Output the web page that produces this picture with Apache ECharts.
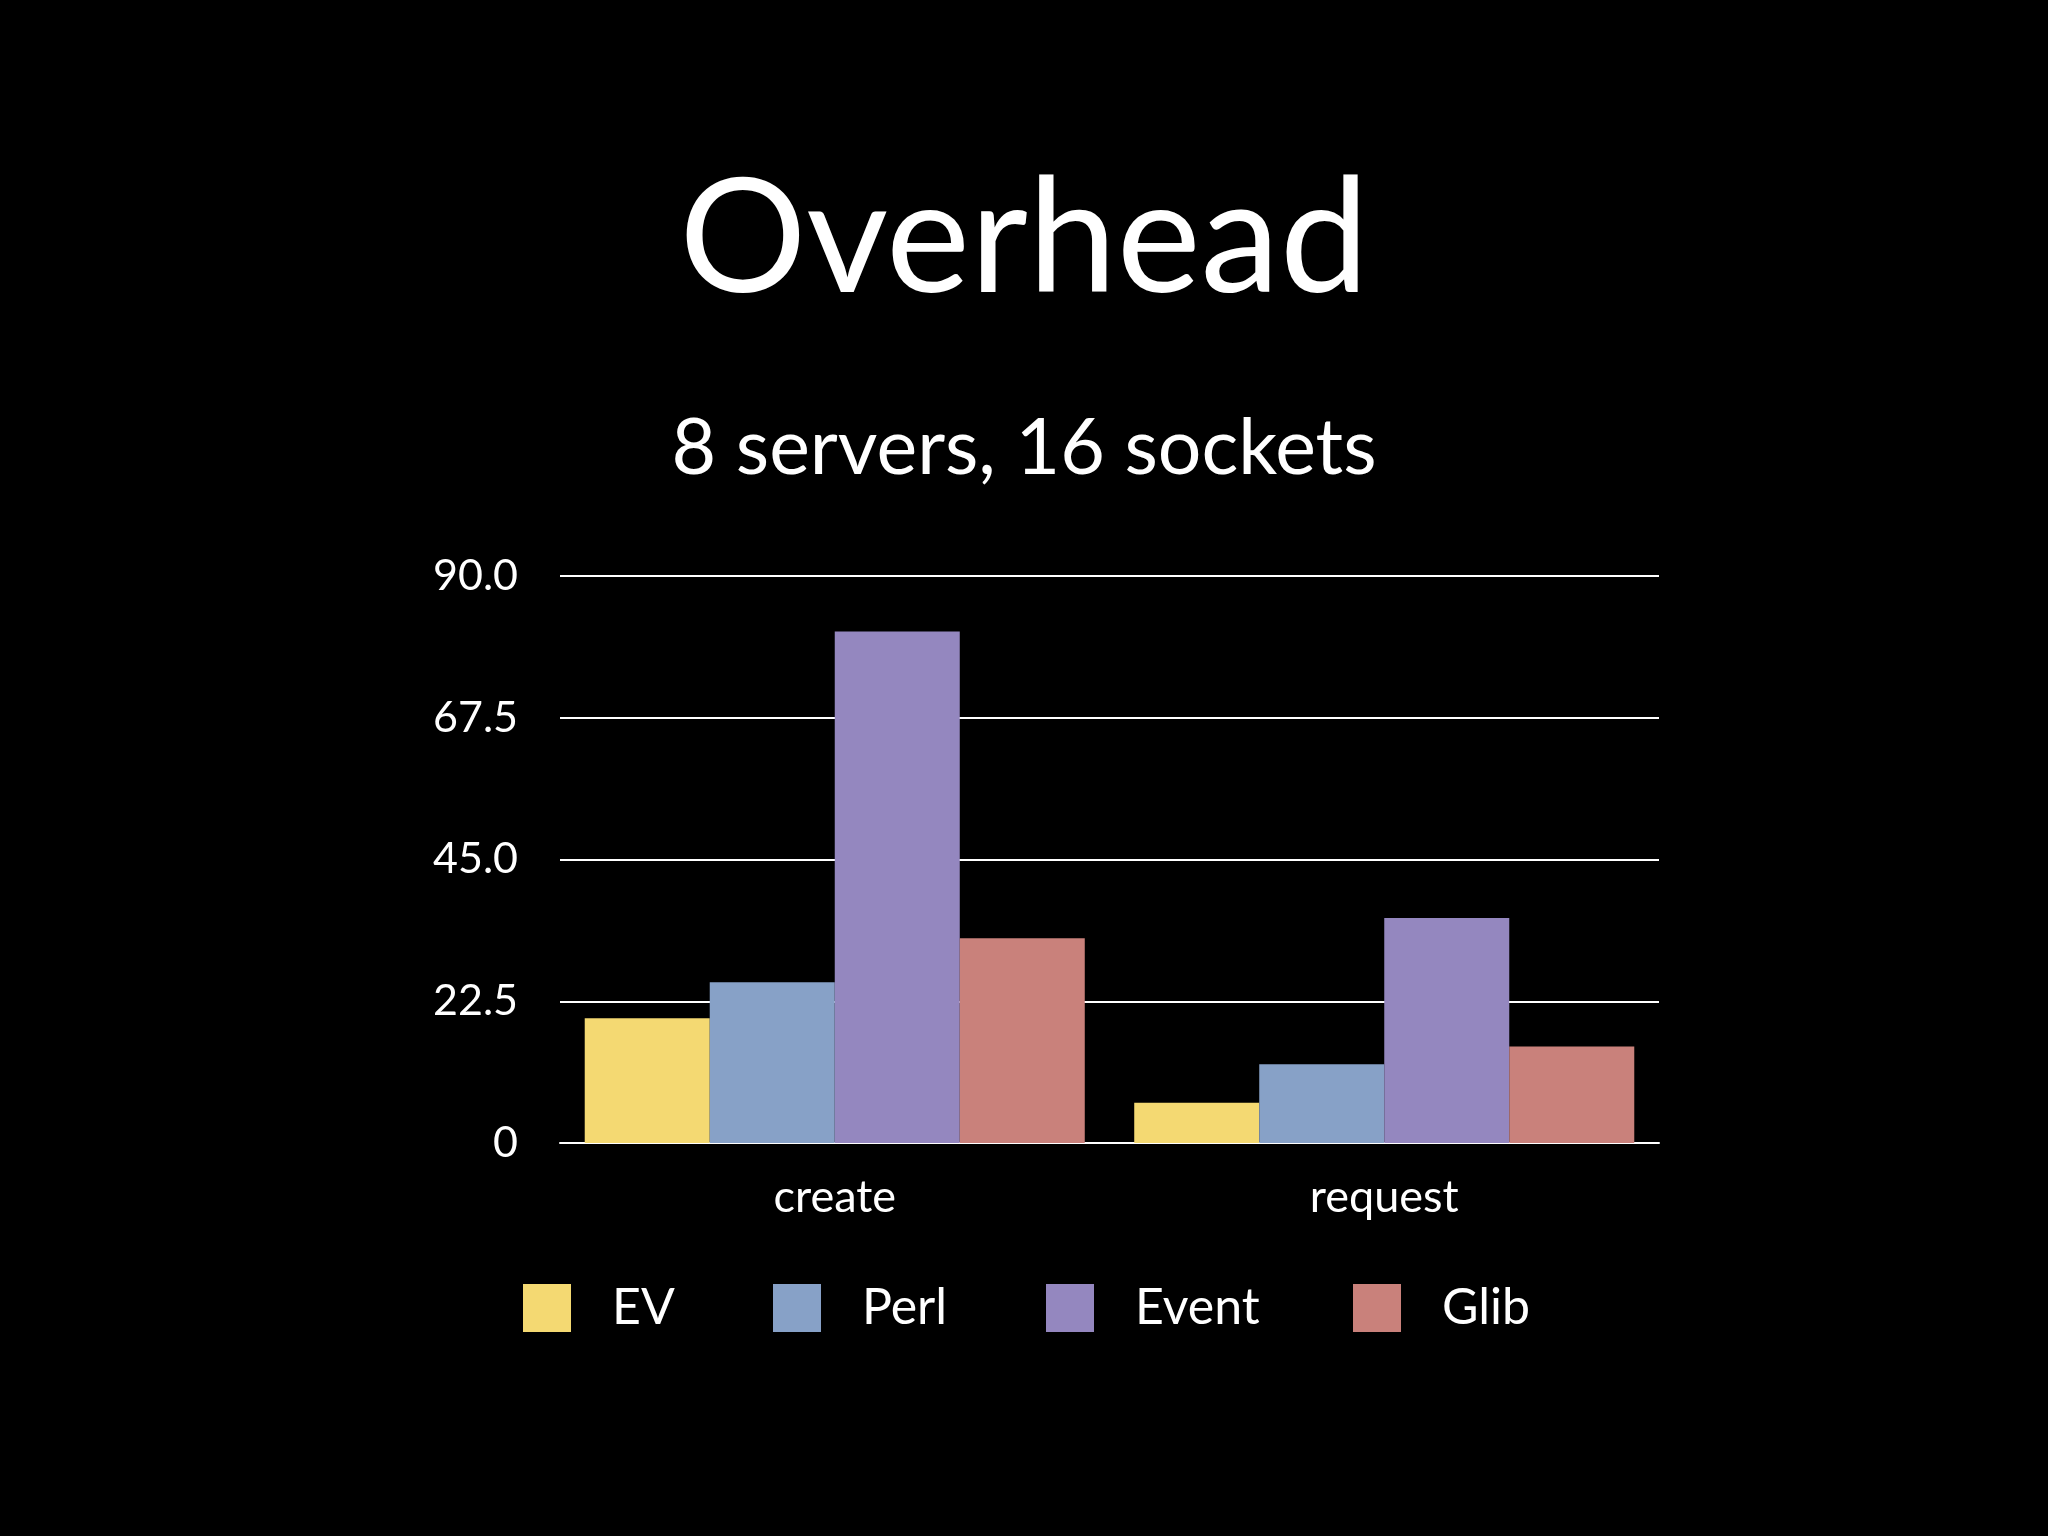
<!DOCTYPE html>
<html>
<head>
<meta charset="utf-8">
<script src="https://cdn.jsdelivr.net/npm/echarts@6/dist/echarts.min.js"></script>
<style>
html,body{margin:0;padding:0;background:#000;}
#chart{width:2048px;height:1536px;}
</style>
</head>
<body>
<div id="chart"></div>
<script>
const titleText = 'Overhead';
const subtitleText = '8 servers, 16 sockets';
const categories = ['create', 'request'];
const seriesNames = ['EV', 'Perl', 'Event', 'Glib'];
const evValues = [19.8, 6.4];
const perlValues = [25.5, 12.5];
const eventValues = [81.2, 35.7];
const glibValues = [32.5, 15.3];
const yTicks = [0, 22.5, 45, 67.5, 90];
const yTickLabels = ['0', '22.5', '45.0', '67.5', '90.0'];
const colors = ['#F4D972', '#87A1C7', '#9487BF', '#C9817B'];

const FONT = 'Lato';
const valuesBySeries = [evValues, perlValues, eventValues, glibValues];
const legendLefts = [518, 768, 1041, 1348];

const chart = echarts.init(document.getElementById('chart'));
chart.setOption({
  backgroundColor: '#000000',
  color: colors,
  title: [
    { text: titleText, left: 'center', top: 156,
      textStyle: { color: '#fff', fontFamily: FONT, fontSize: 159, fontWeight: 'normal' } },
    { text: subtitleText, left: 'center', top: 406,
      textStyle: { color: '#fff', fontFamily: FONT, fontSize: 77, fontWeight: 'normal' } }
  ],
  legend: seriesNames.map(function (name, i) {
    return {
      data: [name],
      left: legendLefts[i],
      top: 1278,
      itemWidth: 48,
      itemHeight: 48,
      icon: 'rect',
      selectedMode: false,
      textStyle: { color: '#fff', fontFamily: FONT, fontSize: 50, padding: [0, 0, 0, 36] }
    };
  }),
  grid: { left: 560, right: 389, top: 576, bottom: 393, containLabel: false },
  xAxis: {
    type: 'category',
    data: categories,
    axisLine: { show: true, lineStyle: { color: '#fff', width: 2 } },
    axisTick: { show: false },
    axisLabel: { color: '#fff', fontFamily: FONT, fontSize: 45, margin: 32 }
  },
  yAxis: {
    type: 'value',
    min: yTicks[0],
    max: yTicks[yTicks.length - 1],
    interval: yTicks[1] - yTicks[0],
    axisLine: { show: false },
    axisTick: { show: false },
    splitLine: { show: true, lineStyle: { color: '#fff', width: 2 } },
    axisLabel: {
      color: '#fff', fontFamily: FONT, fontSize: 43, margin: 42,
      formatter: function (v) {
        const i = yTicks.indexOf(v);
        return i >= 0 ? yTickLabels[i] : String(v);
      }
    }
  },
  series: seriesNames.map(function (name, i) {
    return {
      name: name,
      type: 'bar',
      data: valuesBySeries[i],
      barGap: '0%',
      barCategoryGap: '9%',
      itemStyle: { color: colors[i] },
      emphasis: { disabled: true }
    };
  })
});
</script>
</body>
</html>
